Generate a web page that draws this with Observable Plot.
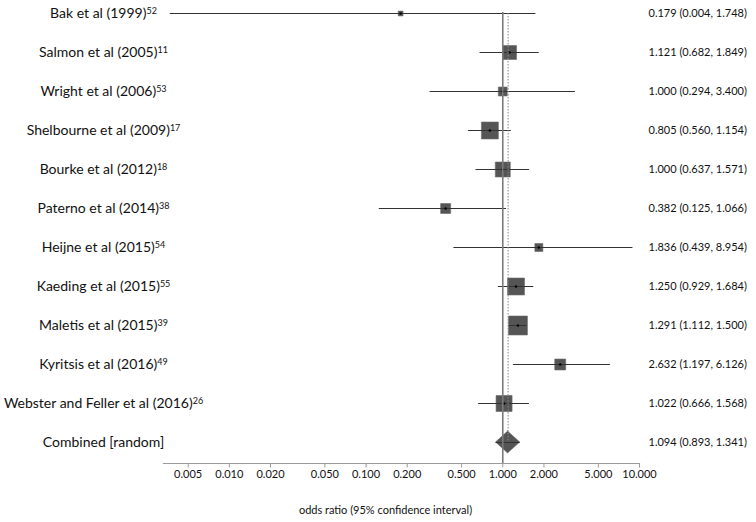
<!DOCTYPE html>
<html>
<head>
<meta charset="utf-8">
<script src="https://cdn.jsdelivr.net/npm/d3@7"></script>
<script src="https://cdn.jsdelivr.net/npm/@observablehq/plot@0.6"></script>
<style>
  html, body { margin: 0; padding: 0; background: #fff; }
  #chart { width: 756px; height: 522px; }
</style>
</head>
<body>
<div id="chart"></div>
<script>
// ---- data ----
const studies = [
  "Bak et al (1999)", "Salmon et al (2005)", "Wright et al (2006)",
  "Shelbourne et al (2009)", "Bourke et al (2012)", "Paterno et al (2014)",
  "Heijne et al (2015)", "Kaeding et al (2015)", "Maletis et al (2015)",
  "Kyritsis et al (2016)", "Webster and Feller et al (2016)"
];
const refs = ["52", "11", "53", "17", "18", "38", "54", "55", "39", "49", "26"];
const oddsRatio = [0.179, 1.121, 1.000, 0.805, 1.000, 0.382, 1.836, 1.250, 1.291, 2.632, 1.022];
const lower = [0.0037, 0.682, 0.294, 0.560, 0.637, 0.125, 0.439, 0.929, 1.112, 1.197, 0.666];
const upper = [1.748, 1.849, 3.400, 1.154, 1.571, 1.066, 8.954, 1.684, 1.500, 6.126, 1.568];
const weights = [1.2, 9.8, 4.0, 14.4, 11.2, 5.0, 3.2, 14.4, 18.0, 6.0, 12.8];
const combinedLabel = "Combined [random]";
const combinedOR = 1.094;
const combinedLower = 0.893;
const combinedUpper = 1.341;
const xTicks = [0.005, 0.01, 0.02, 0.05, 0.1, 0.2, 0.5, 1, 2, 5, 10];
const xDomain = [0.0033, 10];
const axisTitle = "odds ratio (95% confidence interval)";

// ---- derived tables ----
const studyRows = studies.map((s, i) => ({
  i, label: s, ref: refs[i], or: oddsRatio[i], lo: lower[i], hi: upper[i], w: weights[i]
}));
const ci = studies.length;
const combinedRow = {i: ci, label: combinedLabel, ref: "", or: combinedOR, lo: combinedLower, hi: combinedUpper};
const allRows = [...studyRows, combinedRow];
const diamondHalf = 0.28; // half-height of the pooled diamond, in rows
const diamond = [
  {y: ci - diamondHalf, x1: combinedOR, x2: combinedOR},
  {y: ci, x1: combinedLower, x2: combinedUpper},
  {y: ci + diamondHalf, x1: combinedOR, x2: combinedOR}
];
const f3 = d3.format(".3f");

// a short downward tick, used as a dot symbol for the x axis
const tickSymbol = {
  draw(context) {
    context.moveTo(0, 0);
    context.lineTo(0, 4);
  }
};

const chart = Plot.plot({
  width: 756,
  height: 522,
  marginTop: 12,
  marginLeft: 163,
  marginRight: 117,
  marginBottom: 59,
  style: {fontFamily: "Lato, 'Open Sans', sans-serif", fontSize: "11px", color: "#111", background: "#fff"},
  x: {type: "log", domain: xDomain, axis: null},
  y: {domain: [0, ci], range: [13, 442], axis: null},
  r: {type: "sqrt", domain: [0, d3.max(weights)], range: [0, 10.7]},
  marks: [
    Plot.dot(studyRows, {x: "or", y: "i", r: "w", symbol: "square", fill: "#555", stroke: "#6a6a6a", strokeWidth: 0.6}),
    Plot.areaX(diamond, {y: "y", x1: "x1", x2: "x2", fill: "#555", stroke: "#6a6a6a", strokeWidth: 0.6}),
    Plot.ruleY(allRows, {y: "i", x1: "lo", x2: "hi", stroke: "#333", strokeWidth: 1}),
    Plot.dot(studyRows, {x: "or", y: "i", r: 1.2, fill: "#000", stroke: null}),
    Plot.ruleX([1], {stroke: "#7a7a7a", strokeWidth: 1.6}),
    Plot.ruleX([combinedRow], {x: "or", y1: 0, y2: ci, stroke: "#888", strokeWidth: 1, strokeDasharray: "1.5,1.5"}),
    Plot.frame({anchor: "bottom", stroke: "#9a9a9a", strokeWidth: 1.2}),
    Plot.dot(xTicks, {x: d => d, frameAnchor: "bottom", symbol: tickSymbol, fill: "none", stroke: "#9a9a9a", strokeWidth: 1}),
    Plot.text(xTicks, {x: d => d, text: d => f3(d), frameAnchor: "bottom", lineAnchor: "top", dy: 7, fontSize: 11, fill: "#111"}),
    Plot.text([axisTitle], {frameAnchor: "bottom", lineAnchor: "middle", dx: -16, dy: 47, fontSize: 11, fill: "#111"}),
    Plot.text(allRows, {y: "i", text: "label", frameAnchor: "left", textAnchor: "middle", dx: -60, fontSize: 14, fill: "#111", className: "study-label"}),
    Plot.text(allRows, {y: "i", text: d => `${f3(d.or)} (${f3(d.lo)}, ${f3(d.hi)})`, frameAnchor: "right", textAnchor: "start", dx: 9, fontSize: 11, fill: "#111"})
  ]
});

document.getElementById("chart").appendChild(chart);

// superscript reference numbers on study labels
d3.select(chart).selectAll(".study-label text").each(function(d, k) {
  const idx = typeof d === "number" ? d : k;
  const row = allRows[idx];
  if (row && row.ref) {
    d3.select(this).append("tspan")
      .attr("dy", "-0.45em")
      .attr("font-size", "9px")
      .text(row.ref);
  }
});
</script>
</body>
</html>
